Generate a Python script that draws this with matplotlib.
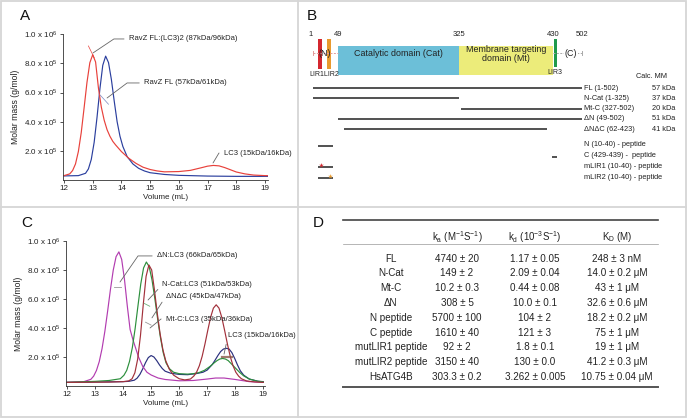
import numpy as np
import matplotlib
matplotlib.use('Agg')
import matplotlib.pyplot as plt
from matplotlib.patches import Rectangle

plt.rcParams['font.family'] = ['Liberation Sans', 'DejaVu Sans']
plt.rcParams['mathtext.fontset'] = 'custom'
plt.rcParams['mathtext.rm'] = 'Liberation Sans'
plt.rcParams['mathtext.it'] = 'Liberation Sans:italic'
plt.rcParams['mathtext.default'] = 'regular'

# ---------------- data ----------------
# Panel A (SEC-MALS, molar mass in units of 1e5 g/mol)
a_red_vol = [12.0, 12.2, 12.3, 12.4, 12.5, 12.6, 12.7, 12.8, 12.9, 13.0, 13.1, 13.2, 13.3, 13.4,
             13.5, 13.6, 13.7, 13.8, 14.0, 14.25, 14.5, 14.75, 15.0, 15.25, 15.5, 16.0,
             16.4, 16.8, 17.0, 17.2, 17.4, 17.6, 17.8, 18.0, 18.3, 18.6, 19.0, 19.2]
a_red_mass = [0.30, 0.42, 0.65, 1.1, 1.95, 3.25, 4.95, 6.7, 8.05, 8.6, 8.1, 6.3, 5.0, 4.1,
              3.45, 3.0, 2.65, 2.4, 1.95, 1.5, 1.15, 0.88, 0.72, 0.62, 0.56, 0.58,
              0.66, 0.85, 0.95, 1.0, 0.97, 0.85, 0.7, 0.55, 0.42, 0.34, 0.3, 0.3]
a_blue_vol = [12.0, 12.5, 12.75, 12.85, 12.95, 13.05, 13.15, 13.25, 13.35, 13.45, 13.55, 13.65,
              13.75, 13.85, 13.95, 14.05, 14.2, 14.4, 14.6, 14.8, 15.0, 15.5, 16.0, 17.0,
              18.0, 19.2]
a_blue_mass = [0.28, 0.3, 0.46, 0.76, 1.41, 2.58, 4.3, 6.25, 7.87, 8.5, 8.06, 6.9,
               5.4, 4.0, 3.0, 2.3, 1.6, 1.1, 0.8, 0.62, 0.5, 0.38, 0.32, 0.27,
               0.25, 0.25]

# Panel C
c_mag_vol = [12.0, 12.6, 12.85, 12.95, 13.05, 13.15, 13.25, 13.35, 13.45, 13.55, 13.65, 13.75,
             13.85, 13.95, 14.05, 14.15, 14.25, 14.35, 14.45, 14.55, 14.7, 14.85, 15.0, 15.25,
             15.5, 16.0, 16.5, 17.0, 17.3, 17.6, 18.0, 18.5, 19.0]
c_mag_mass = [0.25, 0.3, 0.46, 0.68, 1.07, 1.68, 2.58, 3.77, 5.18, 6.67, 8.0, 8.92,
              9.25, 8.73, 7.34, 5.52, 3.9, 3.2, 2.6, 2.0, 1.35, 0.95, 0.76, 0.55,
              0.45, 0.36, 0.38, 0.48, 0.55, 0.55, 0.45, 0.3, 0.25]
c_grn_vol = [12.0, 13.0, 13.5, 13.9, 14.03, 14.13, 14.23, 14.33, 14.43, 14.53, 14.63, 14.73,
             14.83, 14.93, 15.03, 15.13, 15.23, 15.33, 15.43, 15.53, 15.65, 15.8, 16.0, 16.3,
             16.5, 16.7, 16.9, 17.1, 17.25, 17.35, 17.45, 17.55, 17.65, 17.75, 17.85, 18.0,
             18.15, 18.3, 18.5, 18.8, 19.0]
c_grn_mass = [0.25, 0.32, 0.38, 0.5, 0.74, 1.08, 1.7, 2.65, 3.97, 5.52, 7.03, 8.14,
              8.55, 8.23, 7.33, 6.06, 4.66, 3.37, 2.31, 1.6, 1.2, 0.95, 0.85, 0.82,
              0.85, 0.92, 1.08, 1.35, 1.6, 1.75, 1.86, 1.9, 1.86, 1.75, 1.55, 1.25,
              0.95, 0.7, 0.48, 0.33, 0.28]
c_red_vol = [12.0, 13.5, 14.0, 14.2, 14.32, 14.42, 14.52, 14.62, 14.72, 14.82, 14.92, 15.02,
             15.12, 15.22, 15.32, 15.42, 15.52, 15.65, 15.8, 16.0, 16.2, 16.4, 16.52, 16.62,
             16.72, 16.82, 16.92, 17.02, 17.12, 17.22, 17.32, 17.42, 17.52, 17.62, 17.72,
             17.82, 17.92, 18.02, 18.12, 18.22, 18.4, 18.7, 19.0]
c_red_mass = [0.25, 0.27, 0.3, 0.35, 0.5, 0.91, 1.85, 3.48, 5.63, 7.56, 8.35, 8.0,
              6.6, 5.0, 3.6, 2.5, 1.75, 1.15, 0.75, 0.5, 0.42, 0.48, 0.68, 0.95,
              1.4, 2.05, 2.9, 3.84, 4.73, 5.37, 5.6, 5.37, 4.73, 3.84, 2.9,
              2.05, 1.4, 0.95, 0.68, 0.5, 0.35, 0.28, 0.25]
c_navy_vol = [12.0, 14.0, 14.2, 14.4, 14.5, 14.6, 14.7, 14.8, 14.9, 15.0, 15.1, 15.2, 15.3,
              15.4, 15.5, 15.7, 16.0, 16.3, 16.6, 16.85, 17.0, 17.18, 17.28, 17.38, 17.48,
              17.58, 17.68, 17.78, 17.88, 17.98, 18.08, 18.18, 18.3, 18.5, 18.8, 19.0]
c_navy_mass = [0.25, 0.3, 0.32, 0.4, 0.54, 0.8, 1.18, 1.61, 1.96, 2.1, 2.0, 1.75, 1.45,
               1.2, 1.02, 0.88, 0.8, 0.78, 0.85, 0.95, 1.1, 1.48, 1.78, 2.1, 2.38,
               2.55, 2.6, 2.55, 2.3, 1.9, 1.45, 1.05, 0.75, 0.48, 0.33, 0.3]

y_ticks = [2e5, 4e5, 6e5, 8e5, 1e6]
y_tick_labels = [r"2.0 x 10$^{5}$", r"4.0 x 10$^{5}$", r"6.0 x 10$^{5}$",
                 r"8.0 x 10$^{5}$", r"1.0 x 10$^{6}$"]
x_ticks = [12, 13, 14, 15, 16, 17, 18, 19]

# Panel B
domain_res = [1, 49, 325, 430, 502]
construct_names = ["FL (1-502)", "N-Cat (1-325)", "Mt-C (327-502)", "\u0394N (49-502)",
                   "\u0394N\u0394C (62-423)"]
construct_start = [1, 1, 327, 49, 62]
construct_end = [502, 325, 502, 502, 423]
construct_mm = ["57 kDa", "37 kDa", "20 kDa", "51 kDa", "41 kDa"]
peptide_names = ["N (10-40) - peptide", "C (429-439) -  peptide", "mLIR1 (10-40) - peptide",
                 "mLIR2 (10-40) - peptide"]
peptide_start = [10, 429, 10, 10]
peptide_end = [40, 439, 40, 40]
lir_res = [(11, 18), (28, 35), (432, 435)]

# Panel D
row_labels = ["FL", "N-Cat", "Mt-C", "\u0394N", "N peptide", "C peptide", "mutLIR1 peptide",
              "mutLIR2 peptide", "HsATG4B"]
ka_vals = ["4740 \u00b1 20", "149 \u00b1 2", "10.2 \u00b1 0.3", "308 \u00b1 5", "5700 \u00b1 100",
           "1610 \u00b1 40", "92 \u00b1 2", "3150 \u00b1 40", "303.3 \u00b1 0.2"]
kd_vals = ["1.17 \u00b1 0.05", "2.09 \u00b1 0.04", "0.44 \u00b1 0.08", "10.0 \u00b1 0.1",
           "104 \u00b1 2", "121 \u00b1 3", "1.8 \u00b1 0.1", "130 \u00b1 0.0", "3.262 \u00b1 0.005"]
KD_vals = ["248 \u00b1 3 nM", "14.0 \u00b1 0.2 \u03bcM", "43 \u00b1 1 \u03bcM", "32.6 \u00b1 0.6 \u03bcM",
           "18.2 \u00b1 0.2 \u03bcM", "75 \u00b1 1 \u03bcM", "19 \u00b1 1 \u03bcM", "41.2 \u00b1 0.3 \u03bcM",
           "10.75 \u00b1 0.04 \u03bcM"]
col_headers = [r"k$_a$ (M$^{-1}$S$^{-1}$)", r"k$_d$ (10$^{-3}$S$^{-1}$)", r"K$_D$ (M)"]

# ---------------- figure ----------------
W, H = 687, 418
fig = plt.figure(figsize=(W / 100, H / 100), dpi=100)
bg = fig.add_axes([0, 0, 1, 1])
bg.set_xlim(0, W)
bg.set_ylim(H, 0)
bg.axis('off')

TXT = '#222222'
GRID = '#d6d6d6'
bg.add_patch(Rectangle((0.8, 0.8), W - 2, H - 2, fill=False, ec=GRID, lw=1.3))
bg.plot([298, 298], [0, H], color=GRID, lw=1.3)
bg.plot([0, W], [207, 207], color=GRID, lw=1.3)

for lab, (x, y) in zip("ABCD", [(25, 16), (312, 16), (27, 223), (318, 223)]):
    bg.text(x, y, lab, fontsize=11, ha='center', va='center', color='#111111')


def pax(x0, y0, x1, y1):
    a = fig.add_axes([x0 / W, 1 - y1 / H, (x1 - x0) / W, (y1 - y0) / H])
    a.patch.set_alpha(0)
    return a


def style(ax, xlim):
    ax.set_xlim(*xlim)
    ax.set_ylim(0, 1e6)
    for s in ['top', 'right']:
        ax.spines[s].set_visible(False)
    for s in ['left', 'bottom']:
        ax.spines[s].set_color('#333333')
        ax.spines[s].set_linewidth(0.6)
    ax.set_xticks(x_ticks)
    ax.set_xticklabels([str(t) for t in x_ticks], fontsize=5.8, color=TXT)
    ax.set_yticks(y_ticks)
    ax.set_yticklabels(y_tick_labels, fontsize=5.8, color=TXT)
    ax.tick_params(axis='both', length=2.2, width=0.6, pad=1.2, color='#333333')
    ax.set_xlabel("Volume (mL)", fontsize=5.8, color=TXT, labelpad=1.5)
    ax.set_ylabel("Molar mass (g/mol)", fontsize=6.2, color=TXT, labelpad=3)


def ann(ax, text, xy, xytext, arm=0, angle=180):
    cs = "arc,angleA=%d,angleB=0,armA=%g,armB=0,rad=0" % (angle, arm)
    ax.annotate(text, xy=xy, xytext=xytext, fontsize=5.5, color=TXT, ha='left', va='center',
                arrowprops=dict(arrowstyle='-', color='#666666', lw=0.6, shrinkA=1.5, shrinkB=0,
                                relpos=(0, 0.5), connectionstyle=cs))


# Panel A
pxm = 28.714
axA = pax(64 - 0.05 * pxm, 34.3, 265 + 0.1 * pxm, 180)
style(axA, (11.95, 19.1))
axA.plot(a_blue_vol, np.array(a_blue_mass) * 1e5, color='#2b3f9e', lw=0.85)
axA.plot(a_red_vol, np.array(a_red_mass) * 1e5, color='#e8413b', lw=0.85)
ann(axA, "RavZ FL:(LC3)2 (87kDa/96kDa)", (13.01, 0.872e6), (14.26, 0.968e6), arm=15)
ann(axA, "RavZ FL (57kDa/61kDa)", (13.5, 0.563e6), (14.79, 0.666e6), arm=17)
ann(axA, "LC3 (15kDa/16kDa)", (17.19, 0.117e6), (17.57, 0.185e6), arm=5)
axA.plot([12.85, 13.05], [0.92e6, 0.84e6], color='#e8413b', lw=0.5)
axA.plot([13.25, 13.55], [0.585e6, 0.52e6], color='#7a86c0', lw=0.5)

# Panel C
pxc = 28.04
axC = pax(67 - 0.05 * pxc, 241, 263.3 + 0.05 * pxc, 386)
style(axC, (11.95, 19.05))
axC.plot(c_navy_vol, np.array(c_navy_mass) * 1e5, color='#2a2f7e', lw=0.85)
axC.plot(c_mag_vol, np.array(c_mag_mass) * 1e5, color='#b23cb0', lw=0.85)
axC.plot(c_grn_vol, np.array(c_grn_mass) * 1e5, color='#2c8f3c', lw=0.85)
axC.plot(c_red_vol, np.array(c_red_mass) * 1e5, color='#a2303a', lw=0.85)
ann(axC, "\u0394N:LC3 (66kDa/65kDa)", (13.89, 0.717e6), (15.21, 0.897e6), arm=19)
ann(axC, "N-Cat:LC3 (51kDa/53kDa)", (14.89, 0.593e6), (15.39, 0.697e6), arm=0)
ann(axC, "\u0394N\u0394C (45kDa/47kDa)", (15.03, 0.47e6), (15.53, 0.62e6), arm=0)
ann(axC, "Mt-C:LC3 (35kDa/36kDa)", (14.96, 0.40e6), (15.53, 0.462e6), arm=5)
ann(axC, "LC3 (15kDa/16kDa)", (17.6, 0.22e6), (17.74, 0.345e6), arm=0)
axC.plot([13.68, 13.92], [0.68e6, 0.68e6], color='#999999', lw=0.6)
axC.plot([14.75, 14.95], [0.57e6, 0.55e6], color='#6fae7a', lw=0.6)
axC.plot([14.8, 15.0], [0.44e6, 0.42e6], color='#999999', lw=0.6)
axC.plot([17.53, 17.9], [0.2e6, 0.2e6], color='#8a5a4a', lw=1.6, alpha=0.8)

# Panel B
map_px = [313, 338, 459, 553, 582]


def rx(r):
    return np.interp(r, domain_res, map_px)


box_top, box_bot = 46, 75
bg.add_patch(Rectangle((rx(49), box_top), rx(325) - rx(49), box_bot - box_top, color='#6cbfd8', lw=0))
bg.add_patch(Rectangle((rx(325), box_top), rx(430) - rx(325), box_bot - box_top, color='#ecec7a', lw=0))
bg.text((rx(49) + rx(325)) / 2, 54, "Catalytic domain (Cat)", fontsize=6.4, ha='center', va='center', color=TXT)
bg.text((rx(325) + rx(430)) / 2, 54, "Membrane targeting\ndomain (Mt)", fontsize=6.4, ha='center',
        va='center', color=TXT, linespacing=1.0)
# termini
bg.plot([rx(1), rx(49)], [53, 53], color='#e39a9a', lw=0.7, ls=(0, (2, 1.5)))
bg.plot([rx(1), rx(1)], [51, 55], color='#e39a9a', lw=0.7)
bg.plot([rx(430), rx(502)], [53, 53], color='#aaaaaa', lw=0.7, ls=(0, (2, 1.5)))
bg.plot([rx(502), rx(502)], [51, 55], color='#aaaaaa', lw=0.7)
for (s, e), col, top, bot in zip(lir_res, ['#d4272f', '#e89a2e', '#1f9a4c'], [39, 39, 39], [69, 69, 67]):
    xs = rx(s)
    bg.add_patch(Rectangle((xs, top), max(rx(e) - xs, 3.2), bot - top, color=col, lw=0))
bg.text(325, 54, "(N)", fontsize=6.4, ha='center', va='center', color=TXT)
bg.text(rx(430) + 18, 54, "(C)", fontsize=6.4, ha='center', va='center', color=TXT,
        bbox=dict(fc='white', ec='none', pad=0.3))
bg.text(324, 74, "LIR1LIR2", fontsize=5.0, ha='center', va='center', color=TXT)
bg.text(rx(433) + 1, 73, "LIR3", fontsize=5.0, ha='center', va='center', color=TXT)
for r in domain_res:
    bg.text(rx(r) - (2 if r == 1 else 0), 35, str(r), fontsize=5.5, ha='center', va='center', color=TXT)

label_x = 584
bg.text(651, 77, "Calc. MM", fontsize=5.3, ha='center', va='center', color=TXT)
for i, (n, s, e, mm) in enumerate(zip(construct_names, construct_start, construct_end, construct_mm)):
    y = 88 + 10.3 * i
    bg.plot([rx(s), rx(e)], [y, y], color='#333333', lw=1.2, solid_capstyle='butt')
    bg.text(label_x, y, n, fontsize=5.3, ha='left', va='center', color=TXT)
    bg.text(675, y, mm, fontsize=5.3, ha='right', va='center', color=TXT)
for i, (n, s, e) in enumerate(zip(peptide_names, peptide_start, peptide_end)):
    y = 146 + 10.7 * i
    bg.plot([rx(s), rx(e)], [y, y], color='#333333', lw=1.2, solid_capstyle='butt')
    bg.text(label_x, y - 1, n, fontsize=5.3, ha='left', va='center', color=TXT)
    if i >= 2:
        s2, e2 = lir_res[i - 2]
        bg.plot([(rx(s2) + rx(e2)) / 2 + 1], [y - 2.5], marker='*', color=['#d4272f', '#e89a2e'][i - 2],
                ms=3.5, mec='none')

# Panel D table
tx0, tx1 = 343, 658
col_x = [391, 457, 535, 617]
bg.plot([tx0, tx1], [220, 220], color='#444444', lw=1.2)
bg.plot([tx0, tx1], [244, 244], color='#999999', lw=0.5)
bg.plot([tx0, tx1], [386.5, 386.5], color='#555555', lw=1.4)
for cx, h in zip(col_x[1:], col_headers):
    bg.text(cx, 237, h, fontsize=7.0, ha='center', va='center', color=TXT)
for i, row in enumerate(zip(row_labels, ka_vals, kd_vals, KD_vals)):
    y = 258.5 + 14.8 * i
    for cx, t in zip(col_x, row):
        bg.text(cx, y, t, fontsize=7.1, ha='center', va='center', color=TXT)

fig.savefig('out.png', dpi=100)
